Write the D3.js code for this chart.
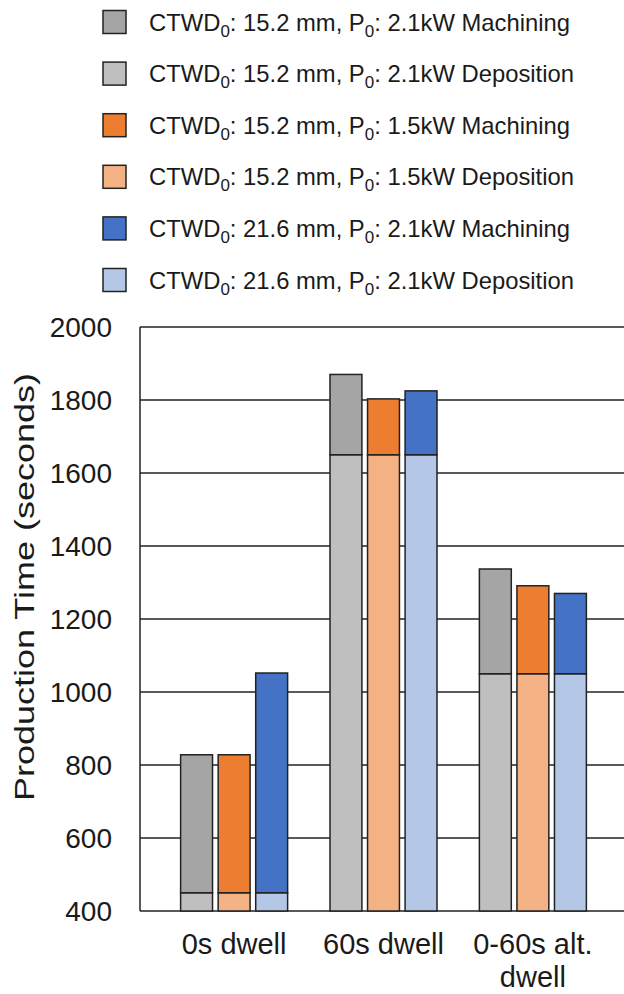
<!DOCTYPE html>
<html>
<head>
<meta charset="utf-8">
<script src="https://cdn.jsdelivr.net/npm/d3@7"></script>
<style>
  body { margin: 0; background: #fff; }
  text { font-family: "Liberation Sans", Arial, sans-serif; fill: #1a1a1a; }
</style>
</head>
<body>
<svg id="chart" width="624" height="994"></svg>
<script>
// categories on the x axis
var groups = ["0s dwell", "60s dwell", "0-60s alt. dwell"];
var configs = ["15.2 mm, 2.1kW", "15.2 mm, 1.5kW", "21.6 mm, 2.1kW"];

// deposition time (bottom part) per group, per config
var deposition = [
  [450, 450, 450],
  [1650, 1650, 1650],
  [1050, 1050, 1050]
];
// machining time (stacked on top)
var machining = [
  [378, 378, 602],
  [220, 153, 175],
  [287, 241, 220]
];

var yTicks = [400, 600, 800, 1000, 1200, 1400, 1600, 1800, 2000];

var legendItems = [
  {ctwd: "15.2", p: "2.1", kind: "Machining"},
  {ctwd: "15.2", p: "2.1", kind: "Deposition"},
  {ctwd: "15.2", p: "1.5", kind: "Machining"},
  {ctwd: "15.2", p: "1.5", kind: "Deposition"},
  {ctwd: "21.6", p: "2.1", kind: "Machining"},
  {ctwd: "21.6", p: "2.1", kind: "Deposition"}
];

var machColors = ["#a5a5a5", "#ed7d31", "#4472c4"];
var depColors  = ["#bfbfbf", "#f4b183", "#b4c7e7"];
var legendColors = ["#a5a5a5", "#bfbfbf", "#ed7d31", "#f4b183", "#4472c4", "#b4c7e7"];

var svg = d3.select("#chart");

var plotL = 140, plotR = 627, plotT = 327, plotB = 911;

var y = d3.scaleLinear().domain([400, 2000]).range([plotB, plotT]);

var x0 = d3.scaleBand().domain(groups).range([plotL, plotR]).paddingInner(0).paddingOuter(0.13);
var x1 = d3.scaleBand().domain(configs).range([0, 107]).paddingInner(0.15);

// gridlines
svg.append("g")
  .selectAll("line")
  .data(yTicks)
  .join("line")
  .attr("x1", plotL).attr("x2", plotR)
  .attr("y1", d => y(d)).attr("y2", d => y(d))
  .attr("stroke", "#222")
  .attr("stroke-width", 1.5);

// left axis line
svg.append("line")
  .attr("x1", plotL).attr("x2", plotL)
  .attr("y1", plotT).attr("y2", plotB)
  .attr("stroke", "#222").attr("stroke-width", 1.5);

// tick labels
svg.append("g")
  .selectAll("text")
  .data(yTicks)
  .join("text")
  .attr("x", 112)
  .attr("y", d => y(d))
  .attr("dy", "0.36em")
  .attr("text-anchor", "end")
  .style("font-size", "28px")
  .text(d => d);

// bars
var gBars = svg.append("g");
groups.forEach(function(g, gi) {
  var gx = x0(g) + x0.bandwidth() / 2 - 53.5;
  configs.forEach(function(c, ci) {
    var dep = deposition[gi][ci];
    var mach = machining[gi][ci];
    var bx = gx + x1(c);
    gBars.append("rect")
      .attr("x", bx).attr("width", x1.bandwidth())
      .attr("y", y(dep)).attr("height", y(400) - y(dep))
      .attr("fill", depColors[ci])
      .attr("stroke", "#222").attr("stroke-width", 1.5);
    gBars.append("rect")
      .attr("x", bx).attr("width", x1.bandwidth())
      .attr("y", y(dep + mach)).attr("height", y(dep) - y(dep + mach))
      .attr("fill", machColors[ci])
      .attr("stroke", "#222").attr("stroke-width", 1.5);
  });
});

// x labels
var xLabels = [["0s dwell"], ["60s dwell"], ["0-60s alt.", "dwell"]];
groups.forEach(function(g, gi) {
  var cx = x0(g) + x0.bandwidth() / 2;
  var t = svg.append("text")
    .attr("x", cx)
    .attr("y", 954)
    .attr("text-anchor", "middle")
    .style("font-size", "29px");
  xLabels[gi].forEach(function(line, li) {
    t.append("tspan")
      .attr("x", cx)
      .attr("dy", li === 0 ? 0 : 33)
      .text(line);
  });
});

// y title
svg.append("text")
  .attr("transform", "translate(34,587) rotate(-90)")
  .attr("text-anchor", "middle")
  .attr("textLength", 428)
  .attr("lengthAdjust", "spacingAndGlyphs")
  .style("font-size", "28px")
  .text("Production Time (seconds)");

// legend
var leg = svg.append("g");
legendItems.forEach(function(d, i) {
  var cy = 22 + i * 51.6;
  leg.append("rect")
    .attr("x", 103).attr("y", cy - 11.5)
    .attr("width", 23).attr("height", 23)
    .attr("fill", legendColors[i])
    .attr("stroke", "#222").attr("stroke-width", 1.5);
  var t = leg.append("text")
    .attr("x", 149).attr("y", cy + 8.5)
    .style("font-size", "23.8px");
  t.append("tspan").text("CTWD");
  t.append("tspan").attr("dy", 6).style("font-size", "17px").text("0");
  t.append("tspan").attr("dy", -6).text(": " + d.ctwd + " mm, P");
  t.append("tspan").attr("dy", 6).style("font-size", "17px").text("0");
  t.append("tspan").attr("dy", -6).text(": " + d.p + "kW " + d.kind);
});
</script>
</body>
</html>
